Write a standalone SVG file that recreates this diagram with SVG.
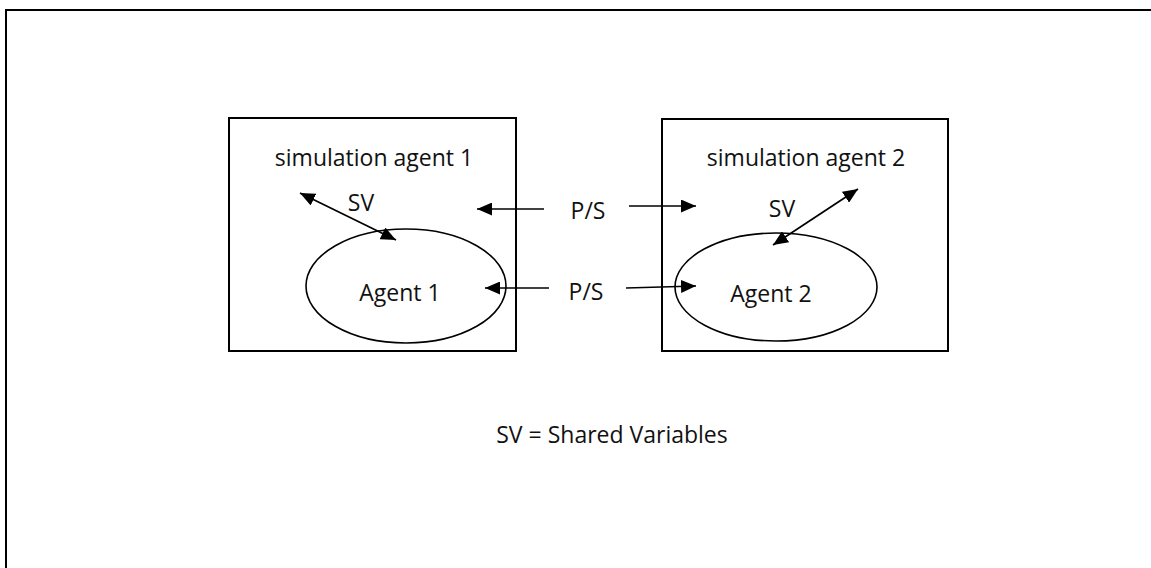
<svg xmlns="http://www.w3.org/2000/svg" width="1151" height="568" viewBox="0 0 1151 568">
<style>
.box{fill:none;stroke:#000;stroke-width:2}
.ell{fill:none;stroke:#000;stroke-width:1.6}
.lbl{font-family:"Open Sans","Liberation Sans",sans-serif;font-size:23px;fill:#111;text-anchor:middle}
.con{stroke:#000;stroke-width:1.7;fill:none}
</style>
<defs>
<marker id="ah" viewBox="0 0 15 13" markerUnits="userSpaceOnUse" markerWidth="15" markerHeight="13" refX="15" refY="6.5" orient="auto-start-reverse">
<path d="M0,0 L15,6.5 L0,13 z" fill="#000"/>
</marker>
</defs>
<rect width="1151" height="568" fill="#fff"/>
<path d="M6,568 V10 H1151" fill="none" stroke="#000" stroke-width="2"/>
<g id="sim1">
<rect class="box" x="229" y="118" width="287" height="233"/>
<text class="lbl" x="374" y="166">simulation agent 1</text>
</g>
<g id="sim2">
<rect class="box" x="662" y="119" width="286" height="232"/>
<text class="lbl" x="806" y="166">simulation agent 2</text>
</g>
<g id="agent1">
<ellipse class="ell" cx="406" cy="286" rx="100" ry="57"/>
<text class="lbl" x="400" y="301">Agent 1</text>
</g>
<g id="agent2">
<ellipse class="ell" cx="776" cy="287" rx="101" ry="54"/>
<text class="lbl" x="771" y="302">Agent 2</text>
</g>
<g id="connectors">
<line class="con" x1="396" y1="240" x2="300" y2="193" marker-end="url(#ah)" marker-start="url(#ah)"/>
<text class="lbl" x="361" y="211">SV</text>
<line class="con" x1="773" y1="245" x2="858" y2="189" marker-end="url(#ah)" marker-start="url(#ah)"/>
<text class="lbl" x="782" y="217">SV</text>
<line class="con" x1="544" y1="209" x2="477" y2="209" marker-end="url(#ah)"/>
<line class="con" x1="629" y1="206" x2="696" y2="206" marker-end="url(#ah)"/>
<text class="lbl" x="588" y="219">P/S</text>
<line class="con" x1="549" y1="288" x2="485" y2="288" marker-end="url(#ah)"/>
<line class="con" x1="626" y1="288" x2="696" y2="286" marker-end="url(#ah)"/>
<text class="lbl" x="586" y="300">P/S</text>
</g>
<text class="lbl" x="612" y="443">SV = Shared Variables</text>
</svg>
